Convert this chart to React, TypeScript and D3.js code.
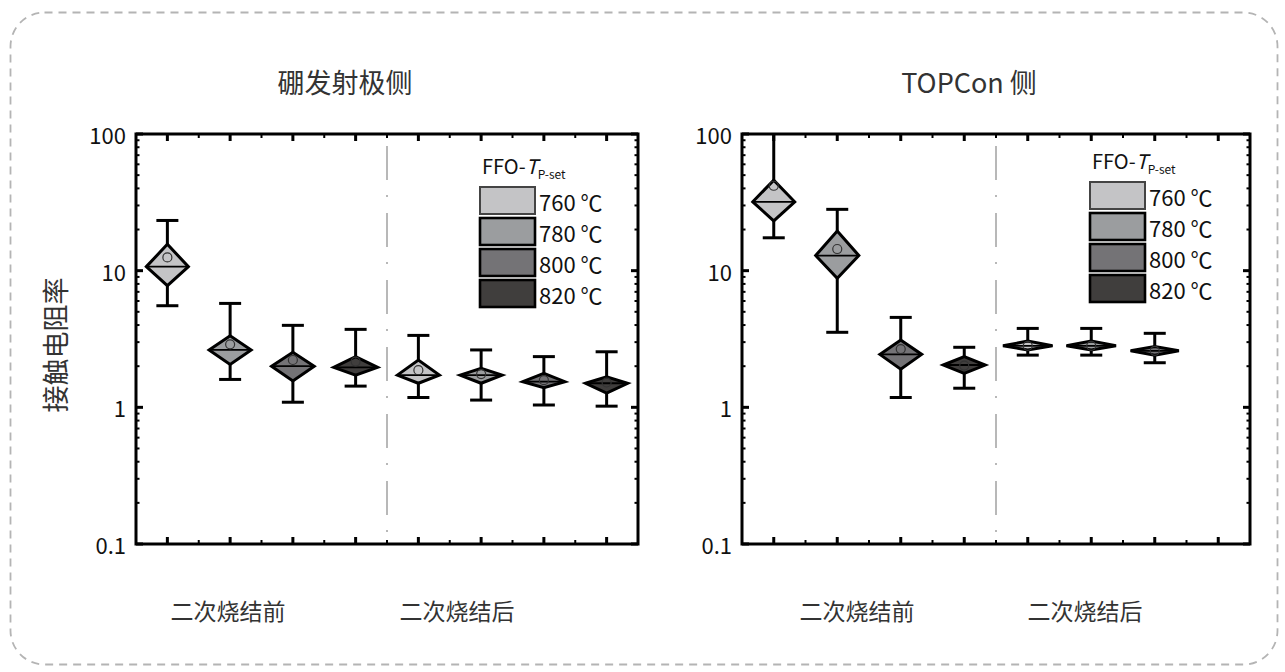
import React, { useEffect, useRef } from 'react';
import * as d3 from 'd3';

// legend / series
const temps = ['760 ℃', '780 ℃', '800 ℃', '820 ℃'];
const stages = ['二次烧结前', '二次烧结后'];
const yTickValues = [0.1, 1, 10, 100];

// 硼发射极侧 — 8 groups: (before, after) x (760, 780, 800, 820)
const boronWhiskerHigh = [23.3, 5.76, 3.98, 3.72, 3.36, 2.63, 2.35, 2.55];
const boronDiamondHigh = [15.6, 3.34, 2.53, 2.35, 2.22, 1.93, 1.77, 1.67];
const boronCenter = [10.7, 2.63, 2.0, 1.96, 1.72, 1.72, 1.54, 1.5];
const boronDiamondLow = [7.76, 2.06, 1.56, 1.72, 1.5, 1.5, 1.39, 1.27];
const boronWhiskerLow = [5.54, 1.6, 1.09, 1.43, 1.18, 1.13, 1.04, 1.02];
const boronMean = [12.5, 2.89, 2.22, 2.16, 1.87, 1.75, 1.58, 1.52];
const boronWidth = [0.67, 0.67, 0.68, 0.7, 0.67, 0.67, 0.67, 0.67];

// TOPCon 侧 — 7 groups
const topconWhiskerHigh = [150, 28.1, 4.55, 2.75, 3.78, 3.78, 3.48];
const topconDiamondHigh = [46.0, 19.5, 3.11, 2.35, 3.05, 3.05, 2.78];
const topconCenter = [31.9, 12.9, 2.44, 2.04, 2.82, 2.82, 2.59];
const topconDiamondLow = [23.1, 8.79, 1.9, 1.77, 2.63, 2.63, 2.41];
const topconWhiskerLow = [17.4, 3.54, 1.18, 1.38, 2.41, 2.41, 2.12];
const topconMean = [41.8, 14.4, 2.67, 2.02, 2.82, 2.82, 2.59];
const topconWidth = [0.66, 0.68, 0.66, 0.66, 0.78, 0.78, 0.76];

const fills = ['#c4c4c6', '#9b9d9f', '#747376', '#403e3d'];
const FONT = '"Noto Sans CJK SC", "Noto Sans", sans-serif';

type Panel = {
  title: string;
  x0: number;
  x1: number;
  titleX: number;
  stageX: number[];
  legendX: number;
  legendY: number;
  wHigh: number[];
  dHigh: number[];
  center: number[];
  dLow: number[];
  wLow: number[];
  mean: number[];
  width: number[];
};

const panels: Panel[] = [
  {
    title: '硼发射极侧', x0: 136, x1: 638, titleX: 345, stageX: [228, 457],
    legendX: 480, legendY: 187,
    wHigh: boronWhiskerHigh, dHigh: boronDiamondHigh, center: boronCenter,
    dLow: boronDiamondLow, wLow: boronWhiskerLow, mean: boronMean, width: boronWidth,
  },
  {
    title: 'TOPCon 侧', x0: 742, x1: 1250, titleX: 969, stageX: [857, 1085],
    legendX: 1090, legendY: 182,
    wHigh: topconWhiskerHigh, dHigh: topconDiamondHigh, center: topconCenter,
    dLow: topconDiamondLow, wLow: topconWhiskerLow, mean: topconMean, width: topconWidth,
  },
];

const TOP = 134;
const BOTTOM = 544;

const App = () => {
  const svgRef = useRef<SVGSVGElement>(null);

  useEffect(() => {
    const svg = d3.select(svgRef.current);
    svg.selectAll('*').remove();

    // outer dashed rounded frame
    svg.append('rect')
      .attr('x', 10.5).attr('y', 12.5).attr('width', 1267).attr('height', 652)
      .attr('rx', 34).attr('fill', 'none')
      .attr('stroke', '#b4b4b4').attr('stroke-width', 1.8).attr('stroke-dasharray', '8,6');

    // y label
    svg.append('text')
      .attr('transform', 'translate(54,345) rotate(-90)')
      .attr('text-anchor', 'middle').attr('dominant-baseline', 'central')
      .style('font-family', FONT).style('font-size', '27px').attr('fill', '#333')
      .text('接触电阻率');

    const y = d3.scaleLog().domain([0.1, 100]).range([BOTTOM, TOP]);

    panels.forEach((p, pi) => {
      const x = d3.scaleLinear().domain([0, 8]).range([p.x0, p.x1]);
      const g = svg.append('g');

      g.append('text')
        .attr('x', p.titleX).attr('y', 81)
        .attr('text-anchor', 'middle').attr('dominant-baseline', 'central')
        .style('font-family', FONT).style('font-size', '27px').attr('fill', '#333')
        .text(p.title);

      // separator between stages
      g.append('line')
        .attr('x1', x(4)).attr('x2', x(4)).attr('y1', TOP + 4).attr('y2', BOTTOM)
        .attr('stroke', '#b8b8b8').attr('stroke-width', 2).attr('stroke-dasharray', '34,15,2,16')
        .attr('stroke-dashoffset', -8);

      // ticks on all four sides
      const minorY: number[] = [];
      [0.1, 1, 10].forEach(d => d3.range(2, 10).forEach(k => minorY.push(d * k)));
      [p.x0, p.x1].forEach((xx, side) => {
        const dir = side === 0 ? 1 : -1;
        g.selectAll(null).data(yTickValues).enter().append('line')
          .attr('x1', xx).attr('x2', xx + dir * 7)
          .attr('y1', d => y(d)).attr('y2', d => y(d))
          .attr('stroke', '#000').attr('stroke-width', 3);
        g.selectAll(null).data(minorY).enter().append('line')
          .attr('x1', xx).attr('x2', xx + dir * 3.5)
          .attr('y1', d => y(d)).attr('y2', d => y(d))
          .attr('stroke', '#000').attr('stroke-width', 2);
      });
      const majorX = d3.range(8).map(i => i + 0.5);
      const minorX = d3.range(1, 8);
      [TOP, BOTTOM].forEach((yy, side) => {
        const dir = side === 0 ? 1 : -1;
        g.selectAll(null).data(majorX).enter().append('line')
          .attr('x1', d => x(d)).attr('x2', d => x(d))
          .attr('y1', yy).attr('y2', yy + dir * 7)
          .attr('stroke', '#000').attr('stroke-width', 3);
        g.selectAll(null).data(minorX).enter().append('line')
          .attr('x1', d => x(d)).attr('x2', d => x(d))
          .attr('y1', yy).attr('y2', yy + dir * 4)
          .attr('stroke', '#000').attr('stroke-width', 2);
      });

      g.selectAll(null).data(yTickValues).enter().append('text')
        .attr('x', p.x0 - 10).attr('y', d => y(d))
        .attr('text-anchor', 'end').attr('dominant-baseline', 'central')
        .style('font-family', FONT).style('font-size', '22px').attr('fill', '#111')
        .text(d => String(d));

      g.selectAll(null).data(stages).enter().append('text')
        .attr('x', (_d, i) => p.stageX[i]).attr('y', 610)
        .attr('text-anchor', 'middle').attr('dominant-baseline', 'central')
        .style('font-family', FONT).style('font-size', '23px').attr('fill', '#333')
        .text(d => d);

      // clip
      const clipId = `clip-${pi}`;
      svg.append('clipPath').attr('id', clipId).append('rect')
        .attr('x', p.x0).attr('y', TOP).attr('width', p.x1 - p.x0).attr('height', BOTTOM - TOP);

      const marks = g.append('g').attr('clip-path', `url(#${clipId})`);
      const bw = x(1) - x(0);

      p.center.forEach((c, i) => {
        const cx = x(i + 0.5);
        const hw = (p.width[i] * bw) / 2;
        const cap = 11;
        const m = marks.append('g');
        m.append('line')
          .attr('x1', cx).attr('x2', cx).attr('y1', y(p.wLow[i])).attr('y2', y(p.wHigh[i]))
          .attr('stroke', '#000').attr('stroke-width', 3);
        [p.wLow[i], p.wHigh[i]].forEach(v => {
          m.append('line')
            .attr('x1', cx - cap).attr('x2', cx + cap).attr('y1', y(v)).attr('y2', y(v))
            .attr('stroke', '#000').attr('stroke-width', 3);
        });
        const pts: [number, number][] = [
          [cx - hw, y(c)], [cx, y(p.dHigh[i])], [cx + hw, y(c)], [cx, y(p.dLow[i])],
        ];
        m.append('path')
          .attr('d', d3.line()(pts) + 'Z')
          .attr('fill', fills[i % 4]).attr('stroke', '#000').attr('stroke-width', 3)
          .attr('stroke-linejoin', 'miter');
        m.append('line')
          .attr('x1', cx - hw).attr('x2', cx + hw).attr('y1', y(c)).attr('y2', y(c))
          .attr('stroke', '#000').attr('stroke-width', 1.8);
        m.append('circle')
          .attr('cx', cx).attr('cy', y(p.mean[i])).attr('r', 4.5)
          .attr('fill', 'none').attr('stroke', '#333').attr('stroke-width', 1.2);
      });

      // frame
      g.append('rect')
        .attr('x', p.x0).attr('y', TOP).attr('width', p.x1 - p.x0).attr('height', BOTTOM - TOP)
        .attr('fill', 'none').attr('stroke', '#000').attr('stroke-width', 3);

      // legend
      const lg = g.append('g');
      const title = lg.append('text')
        .attr('x', p.legendX + 2).attr('y', p.legendY - 13)
        .style('font-family', FONT).style('font-size', '20px').attr('fill', '#111');
      title.append('tspan').text('FFO-');
      title.append('tspan').style('font-style', 'italic').text('T');
      title.append('tspan').attr('dy', 5).style('font-size', '12px').text('P-set');

      temps.forEach((t, i) => {
        const yy = p.legendY + i * 31;
        lg.append('rect')
          .attr('x', p.legendX).attr('y', yy).attr('width', 55).attr('height', 27)
          .attr('fill', fills[i]).attr('stroke', i === 0 ? '#444' : '#000')
          .attr('stroke-width', i === 0 ? 2 : 2.6);
        lg.append('text')
          .attr('x', p.legendX + 59).attr('y', yy + 14)
          .attr('dominant-baseline', 'central')
          .style('font-family', FONT).style('font-size', '22px').attr('fill', '#111')
          .text(t);
      });
    });
  }, []);

  return (
    <svg
      ref={svgRef}
      width={1285}
      height={672}
      style={{ position: 'absolute', left: 0, top: 0, background: '#fff' }}
    />
  );
};

export default App;
